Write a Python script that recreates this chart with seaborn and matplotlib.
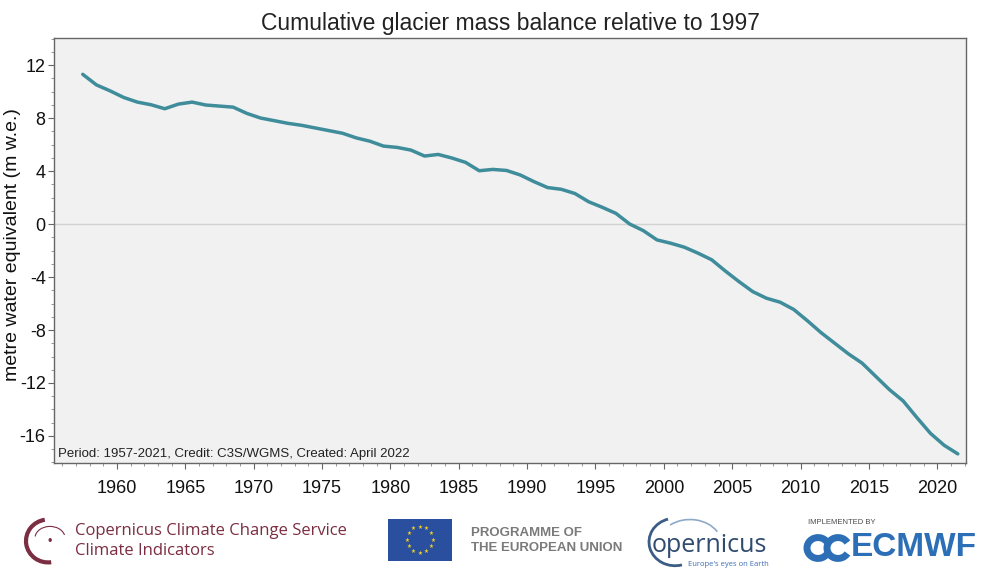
import numpy as np
import pandas as pd
import matplotlib
matplotlib.use("Agg")
import matplotlib.pyplot as plt
import matplotlib.patches as mpatches
from matplotlib.ticker import MultipleLocator
import seaborn as sns

# ---- data ----
years = list(range(1957, 2022))
mass_balance = [
    11.3, 10.5, 10.05, 9.55, 9.2, 9.0, 8.7, 9.05, 9.2, 8.98,
    8.9, 8.82, 8.35, 8.0, 7.8, 7.6, 7.45, 7.25, 7.05, 6.85,
    6.5, 6.25, 5.88, 5.78, 5.58, 5.13, 5.25, 4.98, 4.65, 4.02,
    4.12, 4.04, 3.7, 3.2, 2.75, 2.62, 2.3, 1.68, 1.26, 0.8,
    0.0, -0.5, -1.2, -1.45, -1.75, -2.2, -2.7, -3.55, -4.35, -5.1,
    -5.6, -5.9, -6.45, -7.3, -8.2, -9.0, -9.8, -10.5, -11.5, -12.5,
    -13.35, -14.6, -15.8, -16.7, -17.35,
]
xtick_years = [1960, 1965, 1970, 1975, 1980, 1985, 1990, 1995, 2000, 2005, 2010, 2015, 2020]
ytick_values = [-16, -12, -8, -4, 0, 4, 8, 12]

title = "Cumulative glacier mass balance relative to 1997"
ylabel = "metre water equivalent (m w.e.)"
note = "Period: 1957-2021, Credit: C3S/WGMS, Created: April 2022"

df = pd.DataFrame({"year": years, "value": mass_balance})
df["t"] = df["year"] + 0.5  # annual values plotted at mid-year

sns.set_theme(style="ticks")
plt.rcParams["font.family"] = ["Liberation Sans", "DejaVu Sans"]

fig = plt.figure(figsize=(10, 5.79), dpi=100)
fig.patch.set_facecolor("white")
ax = fig.add_axes([0.054, 0.2003, 0.912, 0.7341])
ax.set_facecolor("#F1F1F1")

ax.axhline(0, color="#D2D2D2", lw=1.0, zorder=1)
sns.lineplot(data=df, x="t", y="value", ax=ax, color="#3F8C9B", lw=2.5, zorder=3)

ax.set_xlim(1955.4, 2022.1)
ax.set_ylim(-18.04, 14.04)
ax.set_xticks(xtick_years)
ax.set_xticklabels([str(y) for y in xtick_years])
ax.set_yticks(ytick_values)
ax.set_yticklabels([str(v) for v in ytick_values])
ax.xaxis.set_minor_locator(MultipleLocator(1))
ax.yaxis.set_minor_locator(MultipleLocator(1))
ax.tick_params(axis="both", which="major", direction="out", length=4, width=0.8,
               color="#666666", labelsize=13, labelcolor="#111111")
ax.tick_params(axis="x", which="major", pad=8)
ax.tick_params(axis="y", which="major", pad=2)
ax.tick_params(axis="both", which="minor", direction="out", length=2.5, width=0.6, color="#888888")
for s in ax.spines.values():
    s.set_visible(True)
    s.set_color("#666666")
    s.set_linewidth(1.0)

ax.set_xlabel("")
ax.set_ylabel(ylabel, fontsize=14, color="#111111")
ax.yaxis.set_label_coords(-0.036, 0.513)
ax.set_title(title, fontsize=16.5, color="#222222", pad=6)
ax.text(0.004, 0.006, note, transform=ax.transAxes, fontsize=9.5,
        color="#222222", ha="left", va="bottom")

# ---- footer logos (approximate, drawn with text and shapes) ----
W, H = 1000, 579
def fx(px):
    return px / W
def fy(py):
    return 1 - py / H

maroon = "#7B2D42"
# C3S emblem arc
arc = mpatches.Arc((fx(48), fy(541)), 0.044, 0.074, theta1=95, theta2=275,
                   transform=fig.transFigure, color=maroon, lw=3)
fig.add_artist(arc)
arc2 = mpatches.Arc((fx(50), fy(538)), 0.03, 0.04, theta1=20, theta2=170,
                    transform=fig.transFigure, color=maroon, lw=0.8)
fig.add_artist(arc2)
fig.text(fx(50), fy(542), "\u2022", color=maroon, fontsize=9, ha="center", va="center")
fig.text(fx(75), fy(531), "Copernicus Climate Change Service", fontsize=12,
         family=["Open Sans", "DejaVu Sans"], color=maroon, ha="left", va="center")
fig.text(fx(75), fy(551), "Climate Indicators", fontsize=12,
         family=["Open Sans", "DejaVu Sans"], color=maroon, ha="left", va="center")

# EU flag
flag = mpatches.Rectangle((fx(388), fy(561)), fx(64), 42 / H, transform=fig.transFigure,
                          facecolor="#2A4F9E", edgecolor="none")
fig.add_artist(flag)
cx, cy = 420, 540
for k in range(12):
    ang = 2 * np.pi * k / 12
    fig.text(fx(cx + 13 * np.cos(ang)), fy(cy + 13 * np.sin(ang)), "\u2605",
             color="#F2D022", fontsize=4, ha="center", va="center",
             family=["DejaVu Sans"])
fig.text(fx(471), fy(533), "PROGRAMME OF", fontsize=9.5, fontweight="bold",
         color="#7A7A7A", ha="left", va="center")
fig.text(fx(471), fy(548), "THE EUROPEAN UNION", fontsize=9.5, fontweight="bold",
         color="#7A7A7A", ha="left", va="center")

# Copernicus
arc3 = mpatches.Arc((fx(675), fy(542)), 0.052, 0.082, theta1=100, theta2=280,
                    transform=fig.transFigure, color="#3B5C84", lw=2)
fig.add_artist(arc3)
arc4 = mpatches.Arc((fx(690), fy(545)), 0.064, 0.088, theta1=40, theta2=120,
                    transform=fig.transFigure, color="#8DA9C8", lw=1.2)
fig.add_artist(arc4)
fig.text(fx(652), fy(545), "opernicus", fontsize=18,
         family=["Open Sans", "DejaVu Sans"], color="#2F4B6E", ha="left", va="center")
fig.text(fx(688), fy(564), "Europe's eyes on Earth", fontsize=5.5,
         family=["Open Sans", "DejaVu Sans"], color="#3D6DB2", ha="left", va="center")

# ECMWF
fig.text(fx(808), fy(522), "IMPLEMENTED BY", fontsize=5.5, color="#4A4A4A",
         ha="left", va="center")
blue = "#2D6FB6"
for ox in (818, 838):
    a = mpatches.Arc((fx(ox), fy(548)), 0.022, 0.036, theta1=45, theta2=315,
                     transform=fig.transFigure, color=blue, lw=5)
    fig.add_artist(a)
fig.text(fx(851), fy(548), "ECMWF", fontsize=24, fontweight="bold", color=blue,
         ha="left", va="center")

fig.savefig("out.png", dpi=100, facecolor="white")
